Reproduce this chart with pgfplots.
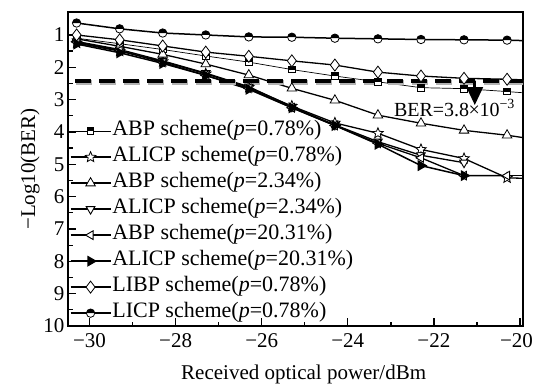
\documentclass[border=0pt]{standalone}
\usepackage{fontspec}
\setmainfont{Liberation Serif}
\usepackage{pgfplots}
\pgfplotsset{compat=1.18}
\usetikzlibrary{arrows.meta}

\pgfdeclareplotmark{ostar}{%
  \pgfpathmoveto{\pgfpointpolar{90}{\pgfplotmarksize}}%
  \pgfpathlineto{\pgfpointpolar{126}{0.45\pgfplotmarksize}}%
  \pgfpathlineto{\pgfpointpolar{162}{\pgfplotmarksize}}%
  \pgfpathlineto{\pgfpointpolar{198}{0.45\pgfplotmarksize}}%
  \pgfpathlineto{\pgfpointpolar{234}{\pgfplotmarksize}}%
  \pgfpathlineto{\pgfpointpolar{270}{0.45\pgfplotmarksize}}%
  \pgfpathlineto{\pgfpointpolar{306}{\pgfplotmarksize}}%
  \pgfpathlineto{\pgfpointpolar{342}{0.45\pgfplotmarksize}}%
  \pgfpathlineto{\pgfpointpolar{18}{\pgfplotmarksize}}%
  \pgfpathlineto{\pgfpointpolar{54}{0.45\pgfplotmarksize}}%
  \pgfpathclose
  \pgfsetfillcolor{white}%
  \pgfusepathqfillstroke}
\pgfdeclareplotmark{hcirc}{%
  \pgfpathcircle{\pgfpointorigin}{\pgfplotmarksize}%
  \pgfsetfillcolor{white}%
  \pgfusepathqfillstroke
  \pgfpathmoveto{\pgfpoint{\pgfplotmarksize}{0pt}}%
  \pgfpatharc{0}{180}{\pgfplotmarksize}%
  \pgfpathclose
  \pgfsetfillcolor{black}%
  \pgfusepathqfill}
\pgfdeclareplotmark{hsq}{%
  \pgfpathrectangle{\pgfpoint{-\pgfplotmarksize}{-\pgfplotmarksize}}{\pgfpoint{2\pgfplotmarksize}{2\pgfplotmarksize}}%
  \pgfsetfillcolor{white}%
  \pgfusepathqfillstroke
  \pgfpathrectangle{\pgfpoint{-\pgfplotmarksize}{0pt}}{\pgfpoint{2\pgfplotmarksize}{\pgfplotmarksize}}%
  \pgfsetfillcolor{black}%
  \pgfusepathqfill}

\newcommand{\fs}{\fontsize{21bp}{25bp}\selectfont}
\newcommand{\fl}{\fontsize{22bp}{26bp}\selectfont}

\begin{document}
\begin{tikzpicture}[font=\fs]
\path[use as bounding box] (-68bp,-62bp) rectangle (466bp,326bp);
\begin{axis}[
  scale only axis, width=455bp, height=314bp,
  xmin=-30.5, xmax=-19.93, ymin=0.29, ymax=10, y dir=reverse,
  xtick={-30,-28,-26,-24,-22,-20},
  xticklabels={−30,−28,−26,−24,−22,\makebox[26bp][r]{−20}},
  ytick={1,2,3,4,5,6,7,8,9,10},
  minor x tick num=1, minor y tick num=1,
  tick align=inside, tick pos=left,
  major tick length=8bp, minor tick length=4.5bp,
  every tick/.style={black, line width=1.3bp},
  axis line style={line width=1.5bp},
  /pgf/number format/assume math mode=true,
  tick label style={font=\fs},
  xticklabel style={yshift=-4bp},
  label style={font=\fs},
  xlabel={Received optical power/dBm},
  ylabel={−Log10(BER)},
  xlabel style={at={(axis description cs:0.518,-0.153)}, anchor=center},
  ylabel style={at={(axis description cs:-0.0835,0.5)}, anchor=center},
  legend style={at={(axis description cs:0.004,0.654)}, anchor=north west,
    draw=none, fill=none, inner sep=0pt, outer sep=0pt, row sep=5bp,
    nodes={inner sep=1bp, text height=14bp, text depth=5bp}, font=\fl},
  legend cell align=left,
  legend image code/.code={\draw[mark repeat=2,mark phase=2] plot coordinates {(0bp,0bp) (20bp,0bp) (40bp,0bp)};},
]
% ABP p=0.78
\addplot[black, line width=0.7bp, mark=hsq, mark size=3.3bp, mark options={solid, line width=0.8bp}] coordinates {
(-30.3,1.10) (-29.3,1.27) (-28.3,1.45) (-27.3,1.65) (-26.3,1.84) (-25.3,2.07) (-24.3,2.27) (-23.3,2.45) (-22.3,2.63) (-21.3,2.66) (-20.3,2.75)};
\addlegendentry{ABP scheme(\textit{p}=0.78\%)}
% ALICP p=0.78
\addplot[black, line width=1.3bp, mark=ostar, mark size=5.5bp, mark options={solid, line width=0.8bp}] coordinates {
(-30.3,1.25) (-29.3,1.50) (-28.3,1.82) (-27.3,2.20) (-26.3,2.62) (-25.3,3.20) (-24.3,3.72) (-23.3,4.04) (-22.3,4.54) (-21.3,4.82) (-20.3,5.42)};
\addlegendentry{ALICP scheme(\textit{p}=0.78\%)}
% ABP p=2.34
\addplot[black, line width=1.3bp, mark=triangle*, mark size=5.5bp, mark options={solid, fill=white, line width=0.8bp}] coordinates {
(-30.3,1.12) (-29.3,1.35) (-28.3,1.60) (-27.3,1.90) (-26.3,2.24) (-25.3,2.65) (-24.3,3.02) (-23.3,3.48) (-22.3,3.73) (-21.3,3.95) (-20.3,4.10)};
\addlegendentry{ABP scheme(\textit{p}=2.34\%)}
% ALICP p=2.34
\addplot[black, line width=1.3bp, mark=triangle*, mark size=5bp, mark options={solid, rotate=180, fill=white, line width=0.9bp}] coordinates {
(-30.3,1.20) (-29.3,1.45) (-28.3,1.80) (-27.3,2.18) (-26.3,2.60) (-25.3,3.22) (-24.3,3.78) (-23.3,4.30) (-22.3,4.72) (-21.3,4.95)};
\addlegendentry{ALICP scheme(\textit{p}=2.34\%)}
% ABP p=20.31
\addplot[black, line width=1.3bp, mark=triangle*, mark size=5bp, mark options={solid, rotate=90, fill=white, line width=0.9bp}] coordinates {
(-30.3,1.22) (-29.3,1.48) (-28.3,1.85) (-27.3,2.25) (-26.3,2.65) (-25.3,3.25) (-24.3,3.80) (-23.3,4.35) (-22.3,4.80) (-21.3,5.35) (-20.3,5.35)};
\addlegendentry{ABP scheme(\textit{p}=20.31\%)}
% ALICP p=20.31
\addplot[black, line width=1.5bp, mark=triangle*, mark size=5bp, mark options={solid, rotate=-90, fill=black}] coordinates {
(-30.3,1.28) (-29.3,1.55) (-28.3,1.88) (-27.3,2.25) (-26.3,2.68) (-25.3,3.25) (-24.3,3.80) (-23.3,4.38) (-22.3,5.04) (-21.3,5.35)};
\addlegendentry{ALICP scheme(\textit{p}=20.31\%)}
% LIBP p=0.78
\addplot[black, line width=1.3bp, mark=diamond*, mark size=6bp, mark options={solid, fill=white, line width=0.8bp}] coordinates {
(-30.3,1.00) (-29.3,1.15) (-28.3,1.34) (-27.3,1.53) (-26.3,1.66) (-25.3,1.80) (-24.3,1.93) (-23.3,2.15) (-22.3,2.27) (-21.3,2.34) (-20.3,2.37)};
\addlegendentry{LIBP scheme(\textit{p}=0.78\%)}
% LICP p=0.78
\addplot[black, line width=1.5bp, mark=hcirc, mark size=4.2bp, mark options={solid, line width=0.8bp}] coordinates {
(-30.3,0.63) (-29.3,0.81) (-28.3,0.94) (-27.3,1.00) (-26.3,1.06) (-25.3,1.07) (-24.3,1.10) (-23.3,1.12) (-22.3,1.14) (-21.3,1.15) (-20.3,1.16)};
\addlegendentry{LICP scheme(\textit{p}=0.78\%)}
% continuations to the right border
\addplot[forget plot, black, line width=0.7bp] coordinates {(-20.3,2.75) (-19.3,2.85)};
\addplot[forget plot, black, line width=1.3bp] coordinates {(-20.3,4.10) (-19.3,4.30)};
\addplot[forget plot, black, line width=1.3bp] coordinates {(-20.3,5.42) (-19.3,5.45)};
\addplot[forget plot, black, line width=1.3bp] coordinates {(-20.3,5.35) (-19.3,5.35)};
\addplot[forget plot, black, line width=1.3bp] coordinates {(-20.3,2.37) (-19.3,2.42)};
\addplot[forget plot, black, line width=1.5bp] coordinates {(-20.3,1.16) (-19.3,1.20)};
% threshold BER = 3.8e-3
\addplot[forget plot, gray!60, line width=4.5bp, dash pattern=on 16bp off 8bp, dash phase=17bp, xshift=1.2bp, yshift=-1.5bp] coordinates {(-30.5,2.42) (-19.93,2.42)};
\addplot[forget plot, black, line width=4.5bp, dash pattern=on 16bp off 8bp, dash phase=17bp] coordinates {(-30.5,2.42) (-19.93,2.42)};
\draw[line width=3bp, -{Triangle[width=16bp,length=18bp]}] (axis cs:-21.05,2.42) -- (axis cs:-21.05,3.17);
\node[anchor=base west, inner sep=0pt, font=\fontsize{20bp}{24bp}\selectfont] at (axis cs:-22.93,3.52) {BER=3.8\kern-0.5bp×\kern-0.5bp10\textsuperscript{−3}};
\end{axis}
\end{tikzpicture}
\end{document}
